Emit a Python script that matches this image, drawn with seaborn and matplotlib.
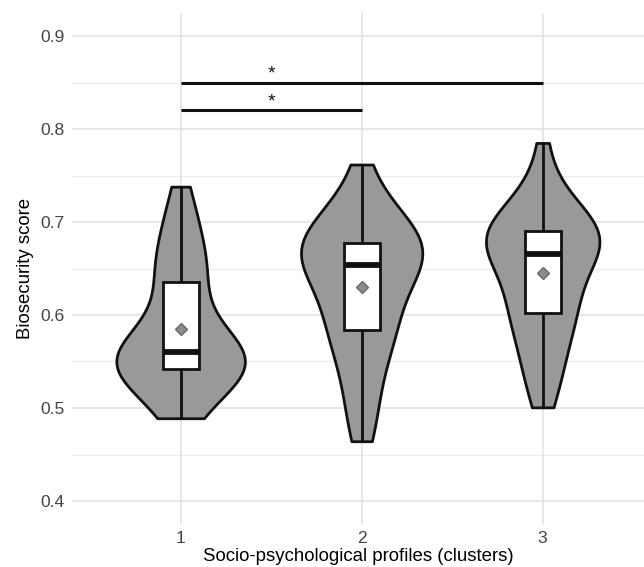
import numpy as np
import pandas as pd
import matplotlib
matplotlib.use("Agg")
import matplotlib.pyplot as plt
import seaborn as sns

# ---- data ----
clusters = ["1", "2", "3"]
scores_c1 = [0.489, 0.495, 0.505, 0.512, 0.518, 0.524, 0.529, 0.533, 0.536, 0.539,
             0.542, 0.544, 0.546, 0.548, 0.550, 0.552, 0.554, 0.555, 0.557, 0.559,
             0.560, 0.563, 0.567, 0.572, 0.578, 0.585, 0.592, 0.600, 0.610, 0.622,
             0.636, 0.641, 0.647, 0.654, 0.662, 0.671, 0.681, 0.692, 0.705, 0.720,
             0.738]
scores_c2 = [0.4643, 0.478, 0.495, 0.511, 0.526, 0.540, 0.552, 0.562, 0.571, 0.578,
             0.5836, 0.589, 0.596, 0.603, 0.610, 0.617, 0.624, 0.631, 0.638, 0.646,
             0.6543, 0.657, 0.659, 0.661, 0.663, 0.665, 0.667, 0.670, 0.672, 0.675,
             0.6779, 0.682, 0.686, 0.690, 0.694, 0.699, 0.705, 0.712, 0.721, 0.736,
             0.7618]
scores_c3 = [0.5007, 0.514, 0.528, 0.540, 0.551, 0.561, 0.570, 0.579, 0.587, 0.595,
             0.6018, 0.606, 0.611, 0.617, 0.623, 0.629, 0.636, 0.643, 0.651, 0.659,
             0.666, 0.668, 0.671, 0.673, 0.676, 0.678, 0.680, 0.683, 0.685, 0.688,
             0.6904, 0.692, 0.695, 0.699, 0.703, 0.708, 0.714, 0.721, 0.732, 0.750,
             0.785]

sig_from = ["1", "1"]
sig_to = ["3", "2"]
sig_y = [0.85, 0.82]
sig_labels = ["*", "*"]
sig_label_x = [0.5, 0.5]   # category-axis position (between clusters 1 and 2)

y_ticks = [0.4, 0.5, 0.6, 0.7, 0.8, 0.9]
y_minor = [0.45, 0.55, 0.65, 0.75, 0.85]

# style: full violin width per cluster (category units)
violin_widths = [0.71, 0.67, 0.627]

df = pd.DataFrame({
    "cluster": [clusters[0]] * len(scores_c1) + [clusters[1]] * len(scores_c2) + [clusters[2]] * len(scores_c3),
    "score": scores_c1 + scores_c2 + scores_c3,
})

sns.set_theme(style="white")
plt.rcParams["font.family"] = ["Liberation Sans", "DejaVu Sans"]

fig = plt.figure(figsize=(6.44, 5.67), dpi=100)
ax = fig.add_axes([72 / 644, 1 - 524.25 / 567, 1 - 72 / 644, (524.25 - 12.75) / 567])

# grid (ggplot theme_minimal look)
for v in y_ticks:
    ax.axhline(v, color="#e0e0e0", lw=1.1, zorder=0)
for v in y_minor:
    ax.axhline(v, color="#ebebeb", lw=0.8, zorder=0)
for i in range(len(clusters)):
    ax.axvline(i, color="#e0e0e0", lw=1.1, zorder=0)

for c, w in zip(clusters, violin_widths):
    sns.violinplot(data=df[df["cluster"] == c], x="cluster", y="score", order=clusters,
                   color="#999999", linecolor="#111111", linewidth=2.0, inner=None,
                   cut=0, bw_adjust=1.0, density_norm="width", width=w,
                   saturation=1, ax=ax, zorder=2)
sns.boxplot(data=df, x="cluster", y="score", order=clusters, width=0.2, color="white",
            linecolor="#111111", linewidth=2.0, showfliers=False, whis=(0, 100),
            showcaps=False, saturation=1, showmeans=True,
            medianprops={"linewidth": 4.2, "color": "#111111"},
            meanprops={"marker": "D", "markerfacecolor": "#8c8c8c",
                       "markeredgecolor": "#6a6a6a", "markersize": 6},
            ax=ax, zorder=3)

# significance bars
for a, b, yv, lab, lx in zip(sig_from, sig_to, sig_y, sig_labels, sig_label_x):
    xa, xb = clusters.index(a), clusters.index(b)
    ax.plot([xa, xb], [yv, yv], color="#111111", lw=2.2, solid_capstyle="butt", zorder=4)
    ax.text(lx, yv + 0.004, lab, ha="center", va="baseline", fontsize=14, color="#111111")

ax.set_xlim(-0.6, (644 - 180.7) / 181)
ax.set_ylim(0.375, 0.925)
ax.set_yticks(y_ticks)
ax.set_yticklabels([f"{v:.1f}" for v in y_ticks])
ax.tick_params(axis="both", length=0, labelsize=12.6, labelcolor="#444444", pad=5)
for s in ax.spines.values():
    s.set_visible(False)
ax.set_xlabel("Socio-psychological profiles (clusters)", fontsize=13.4, color="black", labelpad=1)
ax.set_ylabel("Biosecurity score", fontsize=13.4, color="black", labelpad=5)

fig.savefig("out.png", dpi=100)
